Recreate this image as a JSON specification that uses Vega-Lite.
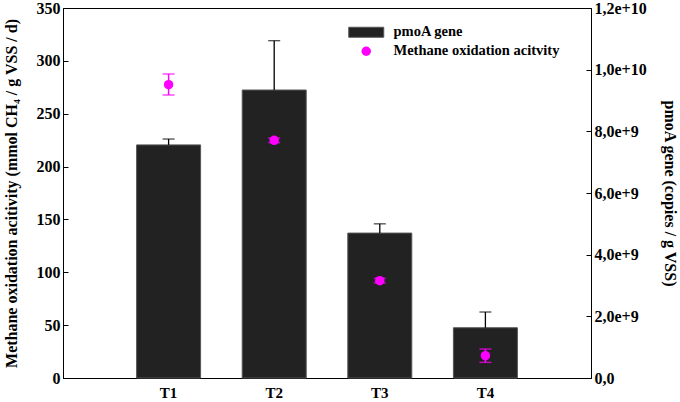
{
  "$schema": "https://vega.github.io/schema/vega-lite/v6.json",
  "width": 528,
  "height": 370,
  "autosize": {"type": "none"},
  "padding": {"left": 63, "top": 8, "right": 89, "bottom": 24},
  "background": "white",
  "data": {
    "values": [
      {"treatment": "T1", "gene": 7.56e9, "gene_hi": 7.75e9, "act": 277.5, "act_lo": 267.7, "act_hi": 287.6},
      {"treatment": "T2", "gene": 9.34e9, "gene_hi": 1.094e10, "act": 224.8, "act_lo": 222.6, "act_hi": 227.0},
      {"treatment": "T3", "gene": 4.70e9, "gene_hi": 5.0e9, "act": 92.1, "act_lo": 90.0, "act_hi": 94.2},
      {"treatment": "T4", "gene": 1.63e9, "gene_hi": 2.14e9, "act": 21.1, "act_lo": 14.8, "act_hi": 27.4}
    ]
  },
  "encoding": {
    "x": {
      "field": "treatment",
      "type": "nominal",
      "title": null,
      "scale": {"paddingInner": 0.394, "paddingOuter": 0.697},
      "axis": {"labelAngle": 0, "ticks": false, "labelPadding": 7, "labelFontSize": 15}
    }
  },
  "layer": [
    {
      "layer": [
        {
          "mark": {"type": "bar", "color": "#222222", "stroke": "#555555", "strokeWidth": 1},
          "encoding": {
            "y": {
              "field": "gene",
              "type": "quantitative",
              "scale": {"domain": [0, 12000000000], "nice": false},
              "title": "pmoA gene (copies / g VSS)",
              "axis": {
                "orient": "right",
                "values": [0, 2000000000, 4000000000, 6000000000, 8000000000, 10000000000, 12000000000],
                "labelExpr": "datum.value == 0 ? '0,0' : replace(format(datum.value, '.1e'), '.', ',')",
                "titlePadding": 15
              }
            },
            "fill": {
              "datum": "pmoA gene",
              "scale": {"range": ["#222222"]},
              "legend": {
                "title": null,
                "orient": "none",
                "legendX": 296,
                "legendY": 17,
                "symbolType": "M-3.5,-1H3.5V1H-3.5Z",
                "symbolSize": 100,
                "symbolStrokeColor": "#555555",
                "symbolStrokeWidth": 1,
                "labelOffset": 20
              }
            }
          }
        },
        {
          "mark": {"type": "rule", "color": "black", "strokeWidth": 1.3},
          "encoding": {
            "y": {"field": "gene", "type": "quantitative"},
            "y2": {"field": "gene_hi"}
          }
        },
        {
          "mark": {"type": "tick", "color": "black", "thickness": 1.3, "size": 12},
          "encoding": {
            "y": {"field": "gene_hi", "type": "quantitative"}
          }
        }
      ]
    },
    {
      "layer": [
        {
          "mark": {"type": "rule", "color": "#ff00ff", "strokeWidth": 1.5},
          "encoding": {
            "y": {
              "field": "act_lo",
              "type": "quantitative",
              "scale": {"domain": [0, 350], "nice": false},
              "title": "Methane oxidation acitivity (mmol CH₄ / g VSS / d)",
              "axis": {
                "orient": "left",
                "values": [0, 50, 100, 150, 200, 250, 300, 350],
                "titlePadding": 17
              }
            },
            "y2": {"field": "act_hi"}
          }
        },
        {
          "mark": {"type": "tick", "color": "#ff00ff", "thickness": 1.5, "size": 12},
          "encoding": {
            "y": {"field": "act_lo", "type": "quantitative"}
          }
        },
        {
          "mark": {"type": "tick", "color": "#ff00ff", "thickness": 1.5, "size": 12},
          "encoding": {
            "y": {"field": "act_hi", "type": "quantitative"}
          }
        },
        {
          "mark": {"type": "point", "filled": true, "shape": "circle", "size": 90, "opacity": 1},
          "encoding": {
            "y": {"field": "act", "type": "quantitative"},
            "color": {
              "datum": "Methane oxidation acitvity",
              "scale": {"range": ["#ff00ff"]},
              "legend": {
                "title": null,
                "orient": "none",
                "legendX": 296,
                "legendY": 36,
                "symbolType": "circle",
                "symbolSize": 90,
                "symbolOpacity": 1,
                "labelOffset": 20
              }
            }
          }
        }
      ]
    }
  ],
  "resolve": {"scale": {"y": "independent"}},
  "config": {
    "font": "Liberation Serif",
    "view": {"stroke": "black", "strokeWidth": 1},
    "axis": {
      "grid": false,
      "domainColor": "black",
      "domainWidth": 1,
      "tickColor": "black",
      "tickSize": -5,
      "labelPadding": 8,
      "labelFont": "Liberation Serif",
      "labelFontWeight": "bold",
      "labelFontSize": 16,
      "labelColor": "black",
      "titleFont": "Liberation Serif",
      "titleFontWeight": "bold",
      "titleFontSize": 16,
      "titleColor": "black"
    },
    "legend": {
      "labelFont": "Liberation Serif",
      "labelFontWeight": "bold",
      "labelFontSize": 14.5,
      "labelColor": "black",
      "labelLimit": 0,
      "rowPadding": 4
    }
  }
}
